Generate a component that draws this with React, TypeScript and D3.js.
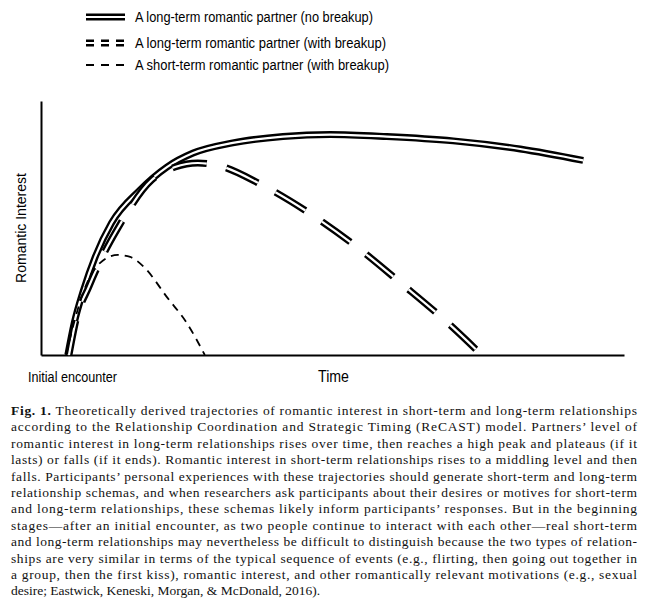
import React, { useEffect, useRef } from 'react';
import * as d3 from 'd3';

// trajectories (time 0-100, interest 0-100)
const solidTime = [4.6, 5.7, 7.3, 9.3, 12.1, 17.0, 21.6, 26.1, 32.9, 41.5, 49.6, 59.3, 70.7, 82.2, 93.0];
const solidInterest = [0, 12.6, 25.6, 38.6, 52.0, 65.0, 74.0, 79.5, 83.5, 86.0, 86.8, 86.0, 84.3, 81.1, 76.6];

const breakupTime = [4.8, 6.0, 8.2, 10.5, 13.0, 19.0, 23.0, 26.9, 30.7, 37.6, 46.0, 54.2, 61.9, 69.6, 75.6];
const breakupInterest = [0, 13.8, 26.8, 38.6, 49.2, 68.9, 74.0, 75.6, 74.4, 67.3, 55.9, 42.5, 28.0, 13.0, 0];

const shortTime = [4.3, 5.7, 7.4, 10.1, 13.2, 15.3, 17.8, 21.6, 25.0, 28.1];
const shortInterest = [0, 13, 25.6, 36.2, 39.4, 38.6, 34.3, 22.8, 12.6, 0];

const legendLabels = [
  'A long-term romantic partner (no breakup)',
  'A long-term romantic partner (with breakup)',
  'A short-term romantic partner (with breakup)',
];
const legendWidths = [238, 251, 254];

const captionLines = [
  'Theoretically derived trajectories of romantic interest in short-term and long-term relationships',
  'according to the Relationship Coordination and Strategic Timing (ReCAST) model. Partners\u2019 level of',
  'romantic interest in long-term relationships rises over time, then reaches a high peak and plateaus (if it',
  'lasts) or falls (if it ends). Romantic interest in short-term relationships rises to a middling level and then',
  'falls. Participants\u2019 personal experiences with these trajectories should generate short-term and long-term',
  'relationship schemas, and when researchers ask participants about their desires or motives for short-term',
  'and long-term relationships, these schemas likely inform participants\u2019 responses. But in the beginning',
  'stages\u2014after an initial encounter, as two people continue to interact with each other\u2014real short-term',
  'and long-term relationships may nevertheless be difficult to distinguish because the two types of relation-',
  'ships are very similar in terms of the typical sequence of events (e.g., flirting, then going out together in',
  'a group, then the first kiss), romantic interest, and other romantically relevant motivations (e.g., sexual',
  'desire; Eastwick, Keneski, Morgan, & McDonald, 2016).',
];

const W = 648;
const H = 607;

const App = () => {
  const xAxisRef = useRef<SVGGElement>(null);
  const yAxisRef = useRef<SVGGElement>(null);

  const x = d3.scaleLinear().domain([0, 100]).range([41, 624]);
  const y = d3.scaleLinear().domain([0, 100]).range([355, 101]);

  const line = d3
    .line<[number, number]>()
    .x((d) => x(d[0]))
    .y((d) => y(d[1]))
    .curve(d3.curveMonotoneX);

  const solidPath = line(solidTime.map((t, i) => [t, solidInterest[i]])) || '';
  const breakupPath = line(breakupTime.map((t, i) => [t, breakupInterest[i]])) || '';
  const shortPath = line(shortTime.map((t, i) => [t, shortInterest[i]])) || '';

  useEffect(() => {
    // bare axis lines, no ticks
    const xa = d3.select(xAxisRef.current);
    xa.selectAll('*').remove();
    xa.call(d3.axisBottom(x).tickValues([]).tickSizeOuter(0));
    xa.select('.domain').attr('stroke', '#000').attr('stroke-width', 2);

    const ya = d3.select(yAxisRef.current);
    ya.selectAll('*').remove();
    ya.call(d3.axisLeft(y).tickValues([]).tickSizeOuter(0));
    ya.select('.domain').attr('stroke', '#000').attr('stroke-width', 2);
  }, []);

  const sans = '"Liberation Sans", Arial, sans-serif';
  const serif = '"Liberation Serif", "Times New Roman", serif';

  return (
    <svg width={W} height={H} style={{ position: 'absolute', left: 0, top: 0, background: '#fff' }}>
      <rect width={W} height={H} fill="#fff" />

      {/* legend */}
      <g>
        <line x1={86} x2={125} y1={17} y2={17} stroke="#000" strokeWidth={7} />
        <line x1={86} x2={125} y1={17} y2={17} stroke="#fff" strokeWidth={2.2} />
        <line x1={86} x2={125} y1={43} y2={43} stroke="#000" strokeWidth={7} strokeDasharray="8,7" />
        <line x1={86} x2={125} y1={43} y2={43} stroke="#fff" strokeWidth={2.2} strokeDasharray="8,7" />
        <line x1={86} x2={125} y1={65} y2={65} stroke="#000" strokeWidth={2} strokeDasharray="8,7" />
        {legendLabels.map((l, i) => (
          <text
            key={l}
            x={135}
            y={[22, 48, 70][i]}
            fontFamily={sans}
            fontSize={14}
            textLength={legendWidths[i]}
            lengthAdjust="spacingAndGlyphs"
          >
            {l}
          </text>
        ))}
      </g>

      {/* axes */}
      <g ref={xAxisRef} transform={`translate(0,${y(0)})`} />
      <g ref={yAxisRef} transform={`translate(${x(0)},0)`} />

      {/* curves */}
      <path d={solidPath} fill="none" stroke="#000" strokeWidth={7} />
      <path d={solidPath} fill="none" stroke="#fff" strokeWidth={2.2} />
      <path d={breakupPath} fill="none" stroke="#000" strokeWidth={7} strokeDasharray="35,20" />
      <path d={breakupPath} fill="none" stroke="#fff" strokeWidth={2.2} strokeDasharray="35,20" />
      <path d={shortPath} fill="none" stroke="#000" strokeWidth={1.8} strokeDasharray="8,6" />

      {/* axis labels */}
      <text
        transform="translate(26,228) rotate(-90)"
        textAnchor="middle"
        fontFamily={sans}
        fontSize={15}
        textLength={110}
        lengthAdjust="spacingAndGlyphs"
      >
        Romantic Interest
      </text>
      <text x={28} y={382} fontFamily={sans} fontSize={14} textLength={89} lengthAdjust="spacingAndGlyphs">
        Initial encounter
      </text>
      <text x={318} y={382} fontFamily={sans} fontSize={16} textLength={31} lengthAdjust="spacingAndGlyphs">
        Time
      </text>

      {/* caption */}
      {captionLines.map((l, i) => (
        <text
          key={i}
          x={11}
          y={415 + i * 16.4}
          fontFamily={serif}
          fontSize={13.5}
          fill="#111"
          textLength={i < captionLines.length - 1 ? 626 : undefined}
          lengthAdjust="spacing"
        >
          {i === 0 && <tspan fontWeight="bold">Fig. 1. </tspan>}
          {l}
        </text>
      ))}
    </svg>
  );
};

export default App;
